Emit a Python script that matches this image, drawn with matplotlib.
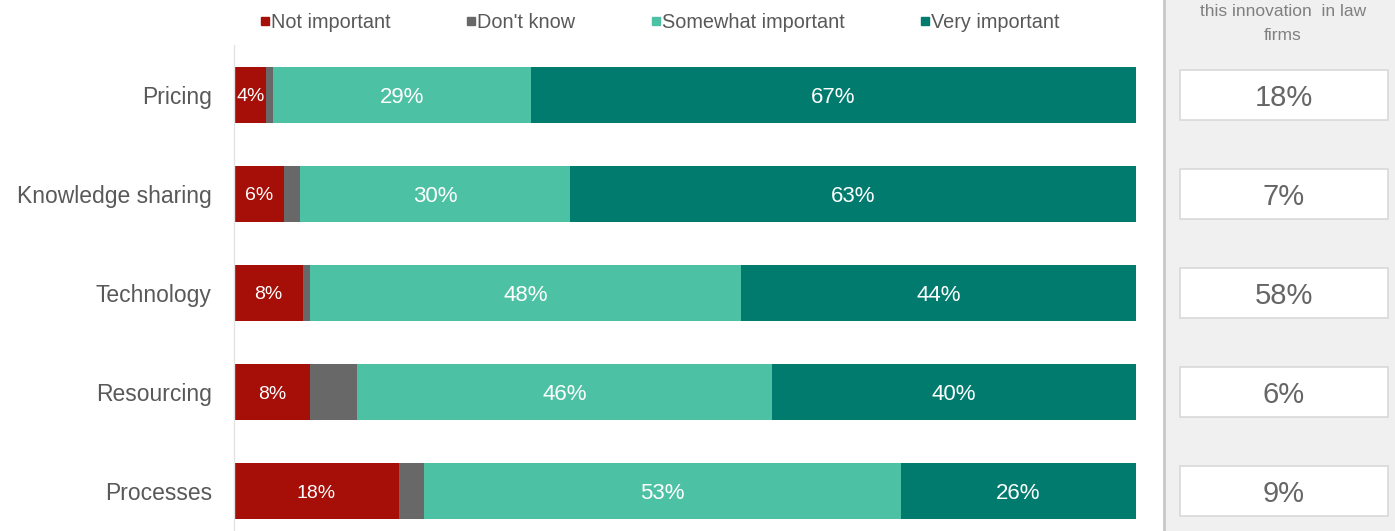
import matplotlib
matplotlib.use('Agg')
import matplotlib.pyplot as plt
from matplotlib.patches import Rectangle
from matplotlib.lines import Line2D

plt.rcParams['font.family'] = ['Liberation Sans', 'DejaVu Sans']

# data (share of respondents, %)
cats = ['Pricing', 'Knowledge sharing', 'Technology', 'Resourcing', 'Processes']
not_imp = [3.6, 5.5, 7.6, 8.4, 18.3]
dont_know = [0.7, 1.8, 0.8, 5.2, 2.8]
somewhat = [28.6, 30.0, 47.8, 46.1, 52.8]
very = [67.1, 62.7, 43.8, 40.3, 26.1]
adoption = [18, 7, 58, 6, 9]  # right-hand boxes

series_names = ['Not important', "Don't know", 'Somewhat important', 'Very important']
colors = ['#a50f08', '#686868', '#4dc1a3', '#007b6e']

W, H = 1395, 531
fig = plt.figure(figsize=(W / 100, H / 100), dpi=100)

# main bar axes (pixel box 234..1136 wide, 45..531 tall)
ax = fig.add_axes([234 / W, 0, (1136 - 234) / W, (H - 45) / H])
ypos = list(range(len(cats)))
left = [0] * len(cats)
all_series = [not_imp, dont_know, somewhat, very]
for i, vals in enumerate(all_series):
    ax.barh(ypos, vals, left=left, height=0.566, color=colors[i], edgecolor='none')
    for y, v, l in zip(ypos, vals, left):
        if i == 1:
            continue
        fs = 14 if i == 0 else 16
        ax.text(l + v / 2, y, f'{round(v)}%', ha='center', va='center_baseline',
                color='white', fontsize=fs)
    left = [a + b for a, b in zip(left, vals)]

ax.set_xlim(0, 100)
ax.set_ylim(4.404, -0.505)
ax.set_yticks(ypos)
ax.set_yticklabels(cats, fontsize=16.5, color='#595959')
ax.tick_params(axis='y', length=0, pad=16)
ax.set_xticks([])
for s in ['top', 'right', 'bottom']:
    ax.spines[s].set_visible(False)
ax.spines['left'].set_color('#e3e3e3')
ax.spines['left'].set_linewidth(1)

# legend
handles = [Line2D([], [], marker='s', linestyle='none', markersize=5.5,
                  color=c) for c in colors]
fig.legend(handles, series_names, loc='center', ncol=4,
           bbox_to_anchor=(660 / W, 1 - 22 / H), frameon=False,
           fontsize=14.3, labelcolor='#595959', handlelength=0.5,
           handletextpad=0.05, columnspacing=3.8)

# right panel
rx0 = 1164
rax = fig.add_axes([rx0 / W, 0, (W - rx0) / W, 1])
rax.set_facecolor('#f0f0f0')
rax.set_xlim(0, 1)
rax.set_ylim(4.404, -0.505 - 45 / 99)
rax.set_xticks([])
rax.set_yticks([])
for s in ['top', 'right', 'bottom']:
    rax.spines[s].set_visible(False)
rax.spines['left'].set_color('#c8c8c8')
rax.spines['left'].set_linewidth(2)

bx0 = (1180 - rx0) / (W - rx0)
bx1 = (1388 - rx0) / (W - rx0)
bh = 0.5
for y, v in zip(ypos, adoption):
    rax.add_patch(Rectangle((bx0, y - bh / 2), bx1 - bx0, bh,
                            facecolor='white', edgecolor='#d9d9d9', linewidth=1.2))
    rax.text((bx0 + bx1) / 2, y, f'{v}%', ha='center', va='center_baseline',
             fontsize=21, color='#666666')

fig.text(1283 / W, 1 - 12 / H, 'this innovation  in law', ha='center',
         va='center', fontsize=12.5, color='#808080')
fig.text(1283 / W, 1 - 35 / H, 'firms', ha='center', va='center',
         fontsize=12.5, color='#808080')

fig.savefig('out.png', dpi=100)
